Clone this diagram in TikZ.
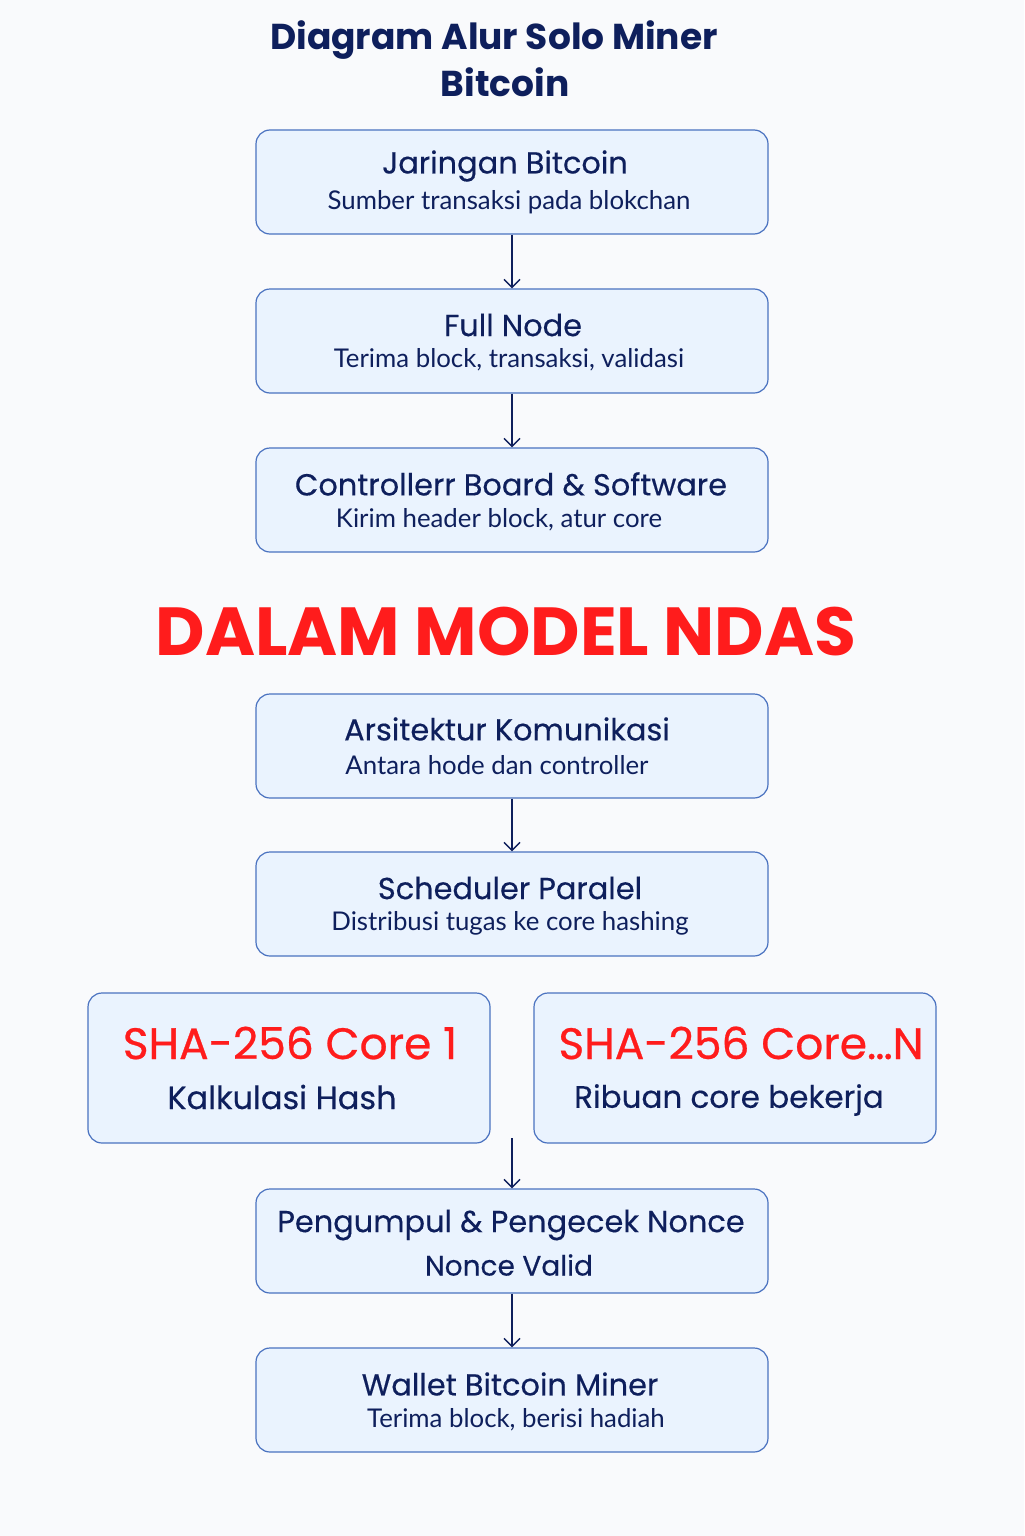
\documentclass[tikz,border=0pt]{standalone}
\usepackage{fontspec}
\setmainfont{Poppins}
\newfontfamily\medfont[FakeBold=0.35]{Poppins}
\newfontfamily\redfont[FakeBold=0.6]{Poppins}
\newfontfamily\subfont{Lato}
\usetikzlibrary{arrows.meta}
\definecolor{bgc}{HTML}{F9FAFC}
\definecolor{navy}{HTML}{0E1F5C}
\definecolor{boxfill}{HTML}{EAF3FE}
\definecolor{boxline}{HTML}{4A72C0}
\definecolor{redt}{HTML}{FF1C1C}
\begin{document}
\begin{tikzpicture}[x=0.5pt,y=-0.5pt,
  box/.style={draw=boxline,fill=boxfill,line width=0.6pt,rounded corners=7pt,inner sep=0pt},
  ttl/.style={text=navy,font=\medfont\fontsize{15.2}{18}\selectfont,inner sep=0pt,anchor=center},
  sub/.style={text=navy,font=\subfont\fontsize{12.9}{15}\selectfont,inner sep=0pt,anchor=center},
  big/.style={text=navy,font=\medfont\fontsize{16}{19}\selectfont,inner sep=0pt,anchor=center},
  redh/.style={text=redt,font=\redfont\fontsize{22}{25}\selectfont,inner sep=0pt,anchor=center},
  arr/.style={draw=navy,line width=0.7pt,-{Straight Barb[length=4pt,width=8pt]}}]
\useasboundingbox (0,0) rectangle (1024,1536);
\fill[bgc] (0,0) rectangle (1024,1536);
% title
\node[text=navy,font=\bfseries\fontsize{18}{21}\selectfont,inner sep=0pt] (t1) at (494,40) {Diagram Alur Solo Miner};
\node[text=navy,font=\bfseries\fontsize{18}{21}\selectfont,inner sep=0pt] (t2) at (505,82) {Bitcoin};
% boxes
\node[box,minimum width=256pt,minimum height=52pt] (b1) at (512,182) {};
\node[box,minimum width=256pt,minimum height=52pt] (b2) at (512,341) {};
\node[box,minimum width=256pt,minimum height=52pt] (b3) at (512,500) {};
\node[box,minimum width=256pt,minimum height=52pt] (b4) at (512,746) {};
\node[box,minimum width=256pt,minimum height=52pt] (b5) at (512,904) {};
\node[box,minimum width=201pt,minimum height=75pt] (c1) at (289,1068) {};
\node[box,minimum width=201pt,minimum height=75pt] (cn) at (735,1068) {};
\node[box,minimum width=256pt,minimum height=52pt] (b6) at (512,1241) {};
\node[box,minimum width=256pt,minimum height=52pt] (b7) at (512,1400) {};
% texts
\node[ttl] (b1t) at (505,166) {Jaringan Bitcoin};
\node[sub] (b1s) at (509,202) {Sumber transaksi pada blokchan};
\node[ttl] (b2t) at (513,325) {Full Node};
\node[sub] (b2s) at (509,360) {Terima block, transaksi, validasi};
\node[ttl] (b3t) at (511,484) {Controllerr Board \& Software};
\node[sub] (b3s) at (499,520) {Kirim header block, atur core};
\node[text=redt,font=\bfseries\fontsize{34}{40}\selectfont,inner sep=0pt] (mid) at (506,632) {DALAM MODEL NDAS};
\node[ttl] (b4t) at (507,729) {Arsitektur Komunikasi};
\node[sub] (b4s) at (497,765) {Antara hode dan controller};
\node[ttl] (b5t) at (510,888) {Scheduler Paralel};
\node[sub] (b5s) at (510,923) {Distribusi tugas ke core hashing};
\node[redh] (c1t) at (290,1043) {SHA-256 Core 1};
\node[big] (c1s) at (282,1097) {Kalkulasi Hash};
\node[redh] (cnt) at (741,1043) {SHA-256 Core…N};
\node[big,font=\medfont\fontsize{15.5}{19}\selectfont] (cns) at (729,1100) {Ribuan core bekerja};
\node[ttl] (b6t) at (511,1225) {Pengumpul \& Pengecek Nonce};
\node[ttl,font=\medfont\fontsize{14}{17}\selectfont] (b6s) at (509,1265) {Nonce Valid};
\node[ttl] (b7t) at (510,1384) {Wallet Bitcoin Miner};
\node[sub] (b7s) at (516,1420) {Terima block, berisi hadiah};
% arrows
\coordinate (cstart) at (512,1138);
\draw[arr] (b1.south) -- (b2.north);
\draw[arr] (b2.south) -- (b3.north);
\draw[arr] (b4.south) -- (b5.north);
\draw[arr] (cstart) -- (b6.north);
\draw[arr] (b6.south) -- (b7.north);
\end{tikzpicture}
\end{document}
